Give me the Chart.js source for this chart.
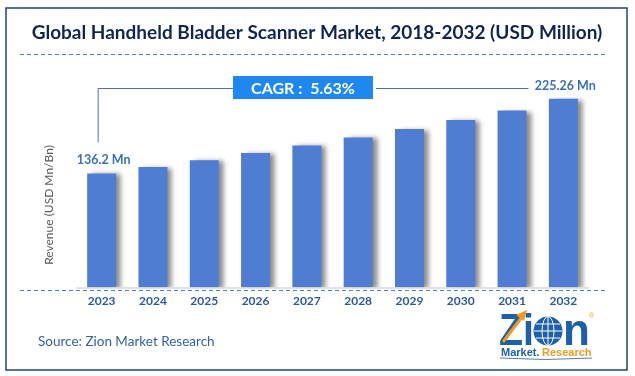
<!DOCTYPE html>
<html>
<head>
<meta charset="utf-8">
<script src="https://cdn.jsdelivr.net/npm/chart.js@4.4.1/dist/chart.umd.min.js"></script>
<style>
    html, body { margin: 0; padding: 0; background: #fff; }
    #wrap { width: 635px; height: 376px; position: relative; }
</style>
</head>
<body>
<div id="wrap"><canvas id="chart" width="635" height="376"></canvas></div>
<script>
// Chart values
const years = ['2023', '2024', '2025', '2026', '2027', '2028', '2029', '2030', '2031', '2032'];
const revenue = [136.2, 143.9, 152.0, 160.5, 169.6, 179.1, 189.2, 199.8, 211.1, 225.26];
const labelledPoints = [0, 9]; // bars that carry a value label
const unitSuffix = ' Mn';

const chartTitle = 'Global Handheld Bladder Scanner Market, 2018-2032 (USD Million)';
const cagrText = 'CAGR :  5.63%';
const yAxisTitle = 'Revenue (USD Mn/Bn)';
const sourceText = 'Source: Zion Market Research';

const FONT = 'Lato, "Open Sans", sans-serif';

function dashedLine(ctx, x1, x2, y) {
    ctx.save();
    ctx.strokeStyle = '#4f7fcf';
    ctx.lineWidth = 1;
    ctx.setLineDash([4, 3]);
    ctx.beginPath();
    ctx.moveTo(x1, y + 0.5);
    ctx.lineTo(x2, y + 0.5);
    ctx.stroke();
    ctx.restore();
}

function drawLogo(ctx) {
    const blue = '#1d5fa8';
    const orange = '#f39a1e';
    ctx.save();
    ctx.fillStyle = blue;
    ctx.textBaseline = 'alphabetic';
    ctx.font = 'bold 44px "Liberation Sans", Arial, sans-serif';
    ctx.fillText('Z', 499, 345, 24);
    ctx.fillText('i', 523, 345, 11);
    ctx.fillText('n', 563, 345, 28);
    // orange arrow through the Z
    ctx.strokeStyle = orange;
    ctx.lineWidth = 3;
    ctx.beginPath();
    ctx.moveTo(503, 342);
    ctx.lineTo(522, 317);
    ctx.stroke();
    ctx.fillStyle = orange;
    ctx.beginPath();
    ctx.moveTo(527, 310);
    ctx.lineTo(516, 315);
    ctx.lineTo(524, 321);
    ctx.closePath();
    ctx.fill();
    // globe as the "o"
    ctx.fillStyle = blue;
    ctx.beginPath();
    ctx.arc(548, 331, 14.5, 0, Math.PI * 2);
    ctx.fill();
    ctx.strokeStyle = '#ffffff';
    ctx.lineWidth = 1;
    ctx.beginPath();
    ctx.ellipse(548, 331, 6, 14.5, 0, 0, Math.PI * 2);
    ctx.moveTo(534, 331); ctx.lineTo(562, 331);
    ctx.moveTo(536, 324); ctx.lineTo(560, 324);
    ctx.moveTo(536, 338); ctx.lineTo(560, 338);
    ctx.moveTo(548, 316.5); ctx.lineTo(548, 345.5);
    ctx.stroke();
    // registered mark
    ctx.fillStyle = orange;
    ctx.font = '7px sans-serif';
    ctx.fillText('\u00AE', 589, 318);
    // wordmark
    ctx.font = 'bold 11px "Liberation Sans", Arial, sans-serif';
    ctx.fillStyle = blue;
    ctx.fillText('Market.', 501, 356);
    ctx.fillStyle = orange;
    ctx.fillText('Research', 542, 356);
    ctx.strokeStyle = blue;
    ctx.lineWidth = 0.8;
    ctx.beginPath();
    ctx.moveTo(500, 358);
    ctx.quadraticCurveTo(545, 361, 592, 358);
    ctx.stroke();
    ctx.restore();
}

const decorPlugin = {
    id: 'decor',
    beforeDatasetDraw(chart) {
        // soft grey drop shadow on the right side of every bar
        // (bars have no border, otherwise Chart.js clips the shadow away)
        const ctx = chart.ctx;
        ctx.save();
        ctx.shadowColor = 'rgba(60, 60, 60, 0.6)';
        ctx.shadowOffsetX = 5;
        ctx.shadowOffsetY = 1;
        ctx.shadowBlur = 5;
    },
    afterDatasetDraw(chart) {
        chart.ctx.restore();
    },
    afterDraw(chart) {
        const ctx = chart.ctx;
        const area = chart.chartArea;
        const bars = chart.getDatasetMeta(0).data;

        // outer frame
        ctx.save();
        ctx.strokeStyle = '#22466e';
        ctx.lineWidth = 1.5;
        ctx.strokeRect(6, 8, 621, 362);

        // title
        ctx.fillStyle = '#0f2654';
        ctx.font = 'bold 19px ' + FONT;
        ctx.textAlign = 'center';
        ctx.textBaseline = 'middle';
        ctx.fillText(chartTitle, 317, 33, 582);
        dashedLine(ctx, 20, 606, 54);

        // axis base line + dashed line under it
        ctx.strokeStyle = '#d9d9d9';
        ctx.lineWidth = 1.5;
        ctx.beginPath();
        ctx.moveTo(area.left, area.bottom + 0.5);
        ctx.lineTo(area.right, area.bottom + 0.5);
        ctx.stroke();
        dashedLine(ctx, 20, 606, 290);

        // value labels
        ctx.fillStyle = '#3a70b4';
        ctx.font = 'bold 12.5px ' + FONT;
        labelledPoints.forEach(i => {
            const b = bars[i];
            ctx.fillText(revenue[i] + unitSuffix, b.x + 2, b.y - 13);
        });

        // CAGR box and connectors
        const boxL = 233, boxR = 373, boxT = 76, boxB = 99;
        const lineY = 88;
        const first = bars[0], last = bars[bars.length - 1];
        ctx.strokeStyle = '#4a72c0';
        ctx.lineWidth = 1;
        ctx.beginPath();
        ctx.moveTo(first.x - 4 + 0.5, first.y - 31);
        ctx.lineTo(first.x - 4 + 0.5, lineY + 0.5);
        ctx.lineTo(boxL, lineY + 0.5);
        ctx.moveTo(boxR + 3, lineY + 0.5);
        ctx.lineTo(last.x - 35, lineY + 0.5);
        ctx.stroke();
        ctx.fillStyle = '#1e88f0';
        ctx.fillRect(boxL, boxT, boxR - boxL, boxB - boxT);
        ctx.fillStyle = '#ffffff';
        ctx.font = 'bold 16px ' + FONT;
        ctx.fillText(cagrText, (boxL + boxR) / 2, (boxT + boxB) / 2 + 1);

        // y axis title
        ctx.save();
        ctx.translate(49, 205);
        ctx.rotate(-Math.PI / 2);
        ctx.fillStyle = '#595959';
        ctx.font = '12px ' + FONT;
        ctx.fillText(yAxisTitle, 0, 0);
        ctx.restore();

        // source
        ctx.textAlign = 'left';
        ctx.fillStyle = '#34619a';
        ctx.font = '13.5px ' + FONT;
        ctx.fillText(sourceText, 38, 342);
        ctx.restore();

        drawLogo(ctx);
    }
};

new Chart(document.getElementById('chart'), {
    type: 'bar',
    data: {
        labels: years,
        datasets: [{
            data: revenue,
            backgroundColor: '#4e7dd2',
            borderWidth: 0,
            barPercentage: 0.565,
            categoryPercentage: 1.0
        }]
    },
    options: {
        responsive: false,
        devicePixelRatio: 1,
        animation: false,
        layout: { padding: { left: 76, right: 46, top: 78, bottom: 62 } },
        plugins: {
            legend: { display: false },
            tooltip: { enabled: false }
        },
        scales: {
            x: {
                grid: { display: false, drawTicks: false },
                border: { display: false },
                ticks: {
                    color: '#2e5a9a',
                    padding: 6,
                    font: { family: FONT, size: 12, weight: 'bold' }
                }
            },
            y: {
                display: false,
                min: 0,
                max: 250
            }
        }
    },
    plugins: [decorPlugin]
});
</script>
</body>
</html>
